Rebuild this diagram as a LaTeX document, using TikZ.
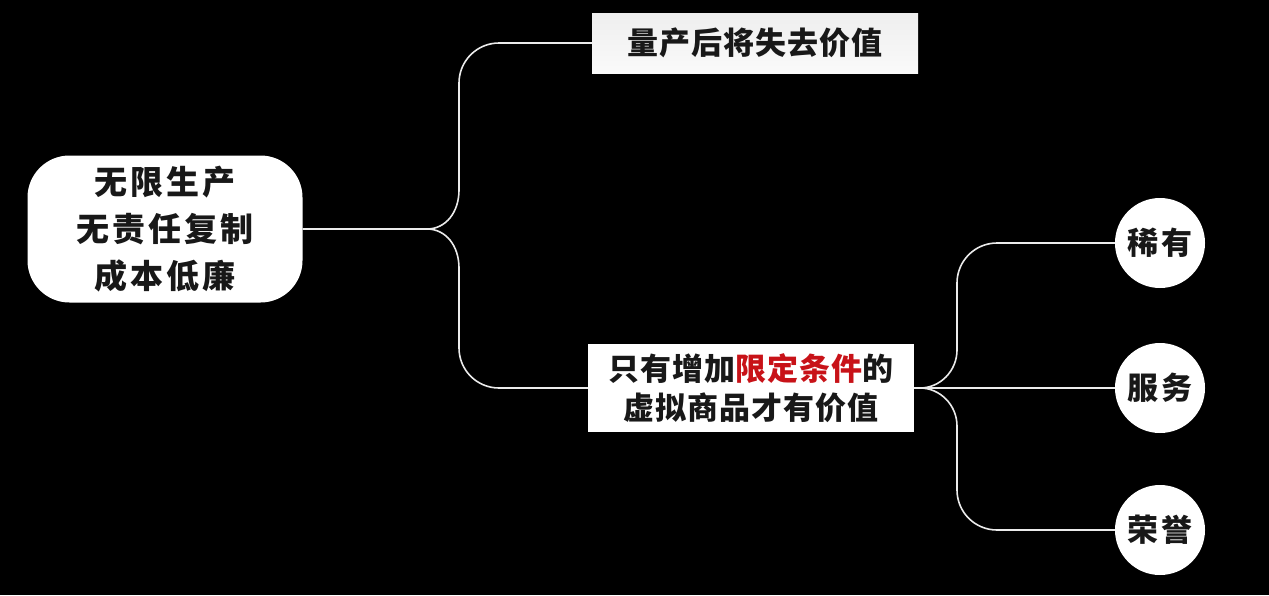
\documentclass[tikz,border=0pt]{standalone}
\usepackage{fontspec}
\newfontfamily\cjk{Noto Sans CJK SC}
\usetikzlibrary{positioning}
\definecolor{redtxt}{RGB}{200,18,24}
\definecolor{inktxt}{RGB}{24,24,24}

\begin{document}
\begin{tikzpicture}[x=1pt, y=-1pt,
    branch/.style={draw=white!92!black, line width=1.6pt},
    srcbox/.style={fill=white, rounded corners=42pt, minimum width=275pt, minimum height=147pt,
        align=center, text=inktxt, font=\cjk\bfseries\fontsize{33}{47}\selectfont\addfontfeatures{LetterSpace=9}},
    leafbox/.style={minimum width=326pt, align=center, text=inktxt,
        font=\cjk\bfseries\fontsize{31}{39}\selectfont\addfontfeatures{LetterSpace=3}},
    leafdot/.style={circle, fill=white, minimum size=90pt, inner sep=0pt, text=inktxt,
        font=\cjk\bfseries\fontsize{31}{36}\selectfont\addfontfeatures{LetterSpace=7}}
  ]

    \fill[black] (0,0) rectangle (1269,595);
    \useasboundingbox (0,0) rectangle (1269,595);

    \node[srcbox] (src) at (165,229) {无限生产\\无责任复制\\成本低廉};
    \node[leafbox, top color=gray!13, bottom color=gray!4, minimum height=60pt] (loss) at (755,43) {量产后将失去价值};
    \node[leafbox, fill=white, minimum height=88pt] (cond) at (751,388)
        {只有增加\textcolor{redtxt}{限定条件}的\\虚拟商品才有价值};

    \node[leafdot] (rare) at (1160,243) {稀有};
    \node[leafdot] (serv) at (1160,388) {服务};
    \node[leafdot] (hono) at (1160,530) {荣誉};

    \coordinate (fork) at (427,229);
    \coordinate (forkr) at (920,388);

    \draw[branch] (src.east) -- (fork) .. controls (446,229) and (459,212) .. (459,190)
        [rounded corners=40pt] |- (loss.west);
    \draw[branch] (fork) .. controls (446,229) and (459,246) .. (459,268)
        [rounded corners=40pt] |- (cond.west);

    \draw[branch] (cond.east) -- (forkr) .. controls (940,388) and (957,371) .. (957,350)
        [rounded corners=40pt] |- (rare.west);
    \draw[branch] (forkr) -- (serv.west);
    \draw[branch] (forkr) .. controls (940,388) and (957,405) .. (957,426)
        [rounded corners=40pt] |- (hono.west);

\end{tikzpicture}
\end{document}
